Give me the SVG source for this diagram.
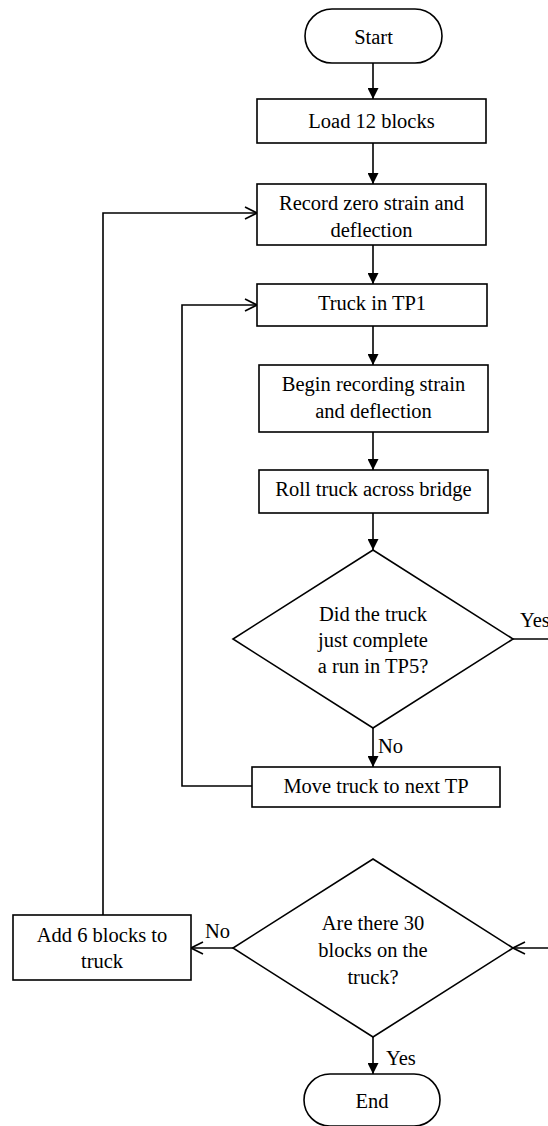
<svg xmlns="http://www.w3.org/2000/svg" width="548" height="1126" viewBox="0 0 548 1126">
<style>
.shape{fill:#fff;stroke:#000;stroke-width:1.6}
.conn{fill:none;stroke:#000;stroke-width:1.6}
text{font-family:"Liberation Serif","Times New Roman",serif;font-size:20.5px;fill:#000}
.c{text-anchor:middle}
</style>
<defs>
<marker id="fill" markerUnits="userSpaceOnUse" markerWidth="11" markerHeight="11" refX="11" refY="5.5" orient="auto">
<path d="M0,0 L11,5.5 L0,11 z" fill="#000"/>
</marker>
<marker id="open" markerUnits="userSpaceOnUse" markerWidth="14" markerHeight="14" refX="13" refY="7" orient="auto">
<path d="M1,1 L13,7 L1,13" fill="none" stroke="#000" stroke-width="1.6"/>
</marker>
</defs>
<g id="connectors">
<path class="conn" d="M373 63 V99" marker-end="url(#fill)"/>
<path class="conn" d="M373 143 V184" marker-end="url(#fill)"/>
<path class="conn" d="M373 245 V284" marker-end="url(#fill)"/>
<path class="conn" d="M373 326 V365" marker-end="url(#fill)"/>
<path class="conn" d="M373 432 V470" marker-end="url(#fill)"/>
<path class="conn" d="M373 513 V550" marker-end="url(#fill)"/>
<path class="conn" d="M373 728 V767" marker-end="url(#fill)"/>
<path class="conn" d="M252 786 H182 V305 H257" marker-end="url(#open)"/>
<path class="conn" d="M103 915 V213 H257" marker-end="url(#open)"/>
<path class="conn" d="M513 639 H548"/>
<path class="conn" d="M548 948 H513" marker-end="url(#open)"/>
<path class="conn" d="M233 948 H191" marker-end="url(#open)"/>
<path class="conn" d="M373 1037 V1074" marker-end="url(#fill)"/>
<text x="378" y="753">No</text>
<text x="520" y="627">Yes</text>
<text x="205" y="938">No</text>
<text x="386" y="1065">Yes</text>
</g>
<g id="start">
<rect class="shape" x="305" y="9" width="137" height="54" rx="27" ry="27"/>
<text class="c" x="373.5" y="44">Start</text>
</g>
<g id="load">
<rect class="shape" x="257" y="99" width="229" height="44"/>
<text class="c" x="371.5" y="128">Load 12 blocks</text>
</g>
<g id="record">
<rect class="shape" x="257" y="184" width="229" height="61"/>
<text class="c" x="371.5" y="210">Record zero strain and</text>
<text class="c" x="371.5" y="237">deflection</text>
</g>
<g id="truck-tp1">
<rect class="shape" x="257" y="284" width="230" height="42"/>
<text class="c" x="372" y="310">Truck in TP1</text>
</g>
<g id="begin">
<rect class="shape" x="259" y="365" width="229" height="67"/>
<text class="c" x="373.5" y="391">Begin recording strain</text>
<text class="c" x="373.5" y="418">and deflection</text>
</g>
<g id="roll">
<rect class="shape" x="259" y="470" width="229" height="43"/>
<text class="c" x="373.5" y="496">Roll truck across bridge</text>
</g>
<g id="decision-tp5">
<polygon class="shape" points="373,550 513,639 373,728 233,639"/>
<text class="c" x="373" y="621">Did the truck</text>
<text class="c" x="373" y="647">just complete</text>
<text class="c" x="373" y="673">a run in TP5?</text>
</g>
<g id="move">
<rect class="shape" x="252" y="767" width="248" height="40"/>
<text class="c" x="376" y="793">Move truck to next TP</text>
</g>
<g id="add-blocks">
<rect class="shape" x="13" y="915" width="178" height="65"/>
<text class="c" x="102" y="942">Add 6 blocks to</text>
<text class="c" x="102" y="968">truck</text>
</g>
<g id="decision-30">
<polygon class="shape" points="373,859 513,948 373,1037 233,948"/>
<text class="c" x="373" y="930">Are there 30</text>
<text class="c" x="373" y="957">blocks on the</text>
<text class="c" x="373" y="984">truck?</text>
</g>
<g id="end">
<rect class="shape" x="304" y="1074" width="136" height="52" rx="26" ry="26"/>
<text class="c" x="372" y="1108">End</text>
</g>
</svg>
